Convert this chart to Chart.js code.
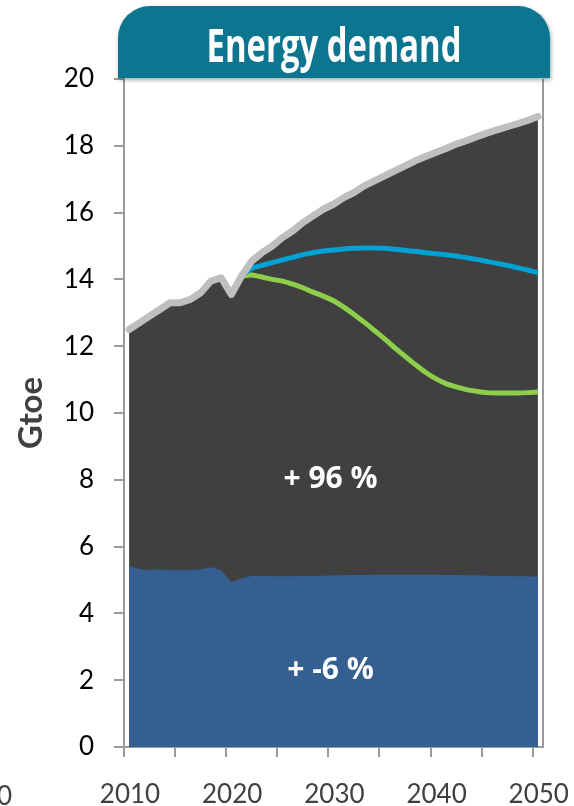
<!DOCTYPE html>
<html>
<head>
<meta charset="utf-8">
<script src="https://cdn.jsdelivr.net/npm/chart.js@4.4.1/dist/chart.umd.min.js"></script>
<style>
  html, body { margin: 0; padding: 0; background: #fff; }
  #wrap { width: 574px; height: 806px; position: relative; }
</style>
</head>
<body>
<div id="wrap"><canvas id="demandChart"></canvas></div>
<script>
// Energy demand, Gtoe, 2010-2050
const years = [];
for (let y = 2010; y <= 2050; y++) years.push(y);

const totalDemand = [
    12.5, 12.7, 12.9, 13.1, 13.3, 13.3, 13.4, 13.6, 13.95, 14.05,
    13.55, 14.1, 14.55, 14.8, 15.0, 15.25, 15.45, 15.7, 15.9, 16.1,
    16.25, 16.45, 16.6, 16.8, 16.95, 17.1, 17.25, 17.4, 17.55, 17.68,
    17.8, 17.92, 18.05, 18.15, 18.27, 18.38, 18.48, 18.57, 18.66, 18.76,
    18.88
];

const baseDemand = [
    5.42, 5.33, 5.29, 5.32, 5.29, 5.29, 5.29, 5.32, 5.38, 5.3,
    4.93, 5.05, 5.12, 5.12, 5.11, 5.11, 5.11, 5.12, 5.12, 5.13,
    5.14, 5.14, 5.15, 5.15, 5.16, 5.16, 5.16, 5.16, 5.16, 5.16,
    5.16, 5.15, 5.15, 5.14, 5.14, 5.13, 5.12, 5.12, 5.11, 5.11,
    5.1
];

// scenario paths start in 2021
const scenarioYears = years.slice(11);
const blueScenario = [
    14.1, 14.33, 14.42, 14.5, 14.58, 14.66, 14.74, 14.8, 14.85, 14.88,
    14.91, 14.93, 14.94, 14.94, 14.93, 14.9, 14.87, 14.84, 14.8, 14.77,
    14.74, 14.7, 14.65, 14.6, 14.54, 14.48, 14.42, 14.35, 14.28, 14.2
];
const greenScenario = [
    14.1, 14.13, 14.07, 14.0, 13.95, 13.86, 13.75, 13.62, 13.5, 13.36,
    13.17, 12.95, 12.72, 12.47, 12.22, 11.95, 11.7, 11.45, 11.22, 11.03,
    10.88, 10.78, 10.7, 10.65, 10.61, 10.6, 10.6, 10.6, 10.61, 10.63
];

const yTicks = [0, 2, 4, 6, 8, 10, 12, 14, 16, 18, 20];
const xLabels = [2010, 2020, 2030, 2040, 2050];
const growthLabels = [
    { text: '+ 96 %', x: 2030, y: 8.0 },
    { text: '+ -6 %', x: 2030, y: 2.3 }
];
const chartTitle = 'Energy demand';

const toPoints = (xs, ys) => xs.map((x, i) => ({ x: x, y: ys[i] }));

const AXIS_GREY = '#9a9a9a';

// banner, right frame line, in-area labels and the clipped neighbour label
const decorations = {
    id: 'decorations',
    afterDraw(chart) {
        const ctx = chart.ctx;
        const area = chart.chartArea;
        const xs = chart.scales.x, ys = chart.scales.y;

        ctx.save();
        ctx.strokeStyle = AXIS_GREY;
        ctx.lineWidth = 2;
        ctx.beginPath();
        ctx.moveTo(area.right, area.top);
        ctx.lineTo(area.right, area.bottom);
        ctx.stroke();

        ctx.fillStyle = '#fff';
        ctx.font = 'bold 30px "Open Sans"';
        ctx.textAlign = 'center';
        ctx.textBaseline = 'middle';
        growthLabels.forEach(l => {
            ctx.fillText(l.text, xs.getPixelForValue(l.x) - 3, ys.getPixelForValue(l.y));
        });

        ctx.fillStyle = '#404040';
        ctx.font = '26px Lato';
        ctx.textAlign = 'right';
        ctx.fillText('2050', 12, 797);

        // title banner with rounded top corners
        const bx = 118, by = 6, bw = 432, bh = 72, r = 32;
        ctx.shadowColor = 'rgba(0,0,0,0.35)';
        ctx.shadowBlur = 4;
        ctx.shadowOffsetX = 1;
        ctx.shadowOffsetY = 2;
        ctx.fillStyle = '#0c7590';
        ctx.beginPath();
        ctx.moveTo(bx, by + bh);
        ctx.lineTo(bx, by + r);
        ctx.arcTo(bx, by, bx + r, by, r);
        ctx.lineTo(bx + bw - r, by);
        ctx.arcTo(bx + bw, by, bx + bw, by + r, r);
        ctx.lineTo(bx + bw, by + bh);
        ctx.closePath();
        ctx.fill();
        ctx.shadowColor = 'transparent';

        ctx.fillStyle = '#fff';
        ctx.font = 'bold 46px "Open Sans"';
        ctx.textAlign = 'center';
        ctx.textBaseline = 'alphabetic';
        const w = ctx.measureText(chartTitle).width;
        const sx = 255 / w;
        ctx.translate(334, 62);
        ctx.scale(sx, 1);
        ctx.fillText(chartTitle, 0, 0);
        ctx.restore();
    }
};

new Chart(document.getElementById('demandChart'), {
    type: 'line',
    data: {
        datasets: [
            {
                label: 'Total',
                data: toPoints(years, totalDemand),
                borderColor: '#bfbfbf',
                borderWidth: 7,
                borderCapStyle: 'round',
                borderJoinStyle: 'round',
                fill: false,
                pointRadius: 0,
                order: 0
            },
            {
                label: 'Scenario A',
                data: toPoints(scenarioYears, blueScenario),
                borderColor: '#00a2d3',
                borderWidth: 5,
                fill: false,
                pointRadius: 0,
                tension: 0.3,
                order: 1
            },
            {
                label: 'Scenario B',
                data: toPoints(scenarioYears, greenScenario),
                borderColor: '#8dcf4a',
                borderWidth: 5,
                fill: false,
                pointRadius: 0,
                tension: 0.3,
                order: 1
            },
            {
                label: 'Base',
                data: toPoints(years, baseDemand),
                borderWidth: 0,
                borderColor: 'rgba(0,0,0,0)',
                backgroundColor: '#355f91',
                fill: 'origin',
                pointRadius: 0,
                order: 2
            },
            {
                label: 'Total area',
                data: toPoints(years, totalDemand),
                borderWidth: 0,
                borderColor: 'rgba(0,0,0,0)',
                backgroundColor: '#404040',
                fill: 'origin',
                pointRadius: 0,
                order: 3
            }
        ]
    },
    options: {
        responsive: true,
        maintainAspectRatio: false,
        animation: false,
        layout: { padding: { left: 0, top: 79, right: 31, bottom: 0 } },
        plugins: {
            legend: { display: false },
            tooltip: { enabled: false }
        },
        scales: {
            x: {
                type: 'linear',
                min: 2009.5,
                max: 2050.5,
                afterFit(scale) {
                    scale.height = 59;
                    scale.paddingLeft = 0;
                    scale.paddingRight = 0;
                },
                afterBuildTicks(scale) {
                    const t = [];
                    for (let v = 2009.5; v < 2050.5; v += 5) t.push({ value: v });
                    scale.ticks = t;
                },
                border: { color: AXIS_GREY, width: 2 },
                grid: {
                    drawOnChartArea: false,
                    drawTicks: true,
                    tickLength: 10,
                    color: AXIS_GREY,
                    lineWidth: 2
                },
                ticks: {
                    autoSkip: false,
                    maxRotation: 0,
                    labelOffset: 6,
                    padding: 22,
                    color: '#404040',
                    font: { family: 'Lato', size: 26 },
                    callback: v => xLabels.includes(v + 0.5) ? String(v + 0.5) : ''
                }
            },
            y: {
                min: 0,
                max: 20,
                afterFit(scale) {
                    scale.width = 124;
                    scale.paddingTop = 0;
                    scale.paddingBottom = 0;
                },
                afterBuildTicks(scale) {
                    scale.ticks = yTicks.map(v => ({ value: v }));
                },
                border: { color: AXIS_GREY, width: 2 },
                grid: {
                    drawOnChartArea: false,
                    drawTicks: true,
                    tickLength: 10,
                    color: AXIS_GREY,
                    lineWidth: 2
                },
                ticks: {
                    padding: 20,
                    color: '#000',
                    font: { family: 'Lato', size: 26 }
                },
                title: {
                    display: true,
                    text: 'Gtoe',
                    color: '#404040',
                    font: { family: 'Lato', size: 33, weight: 'bold' },
                    padding: { top: 12, bottom: 0 }
                }
            }
        }
    },
    plugins: [decorations]
});
</script>
</body>
</html>
